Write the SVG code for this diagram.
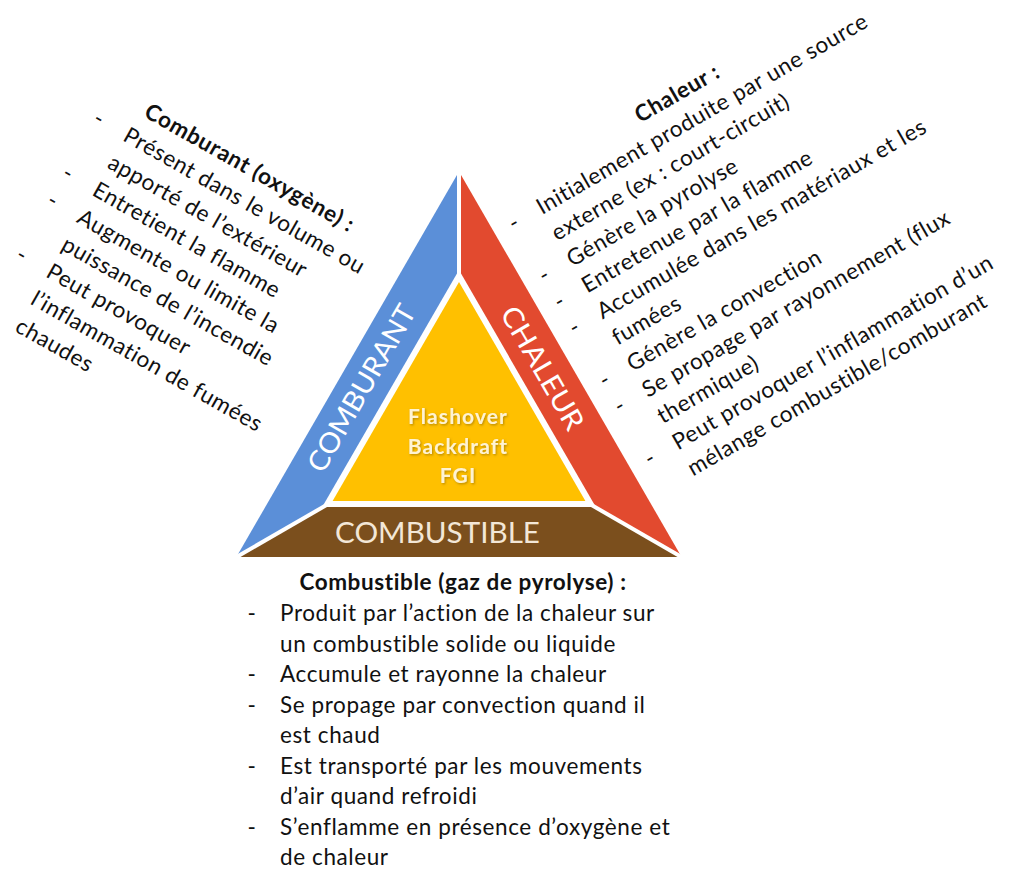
<svg xmlns="http://www.w3.org/2000/svg" width="1011" height="869" viewBox="0 0 1011 869">
  <defs>
    <filter id="shadow" x="-20%" y="-20%" width="140%" height="140%">
      <feDropShadow dx="1" dy="1.2" stdDeviation="0.8" flood-color="#7a5a00" flood-opacity="0.55"/>
    </filter>
  </defs>
  <style>
    .t { font-family: Lato, "Liberation Sans", sans-serif; font-size: 22.5px; letter-spacing: 0.6px; fill: #111; }
    .b { font-weight: bold; }
    .band { font-family: Lato, "Open Sans", sans-serif; font-size: 28px; fill: #ffffff; }
    .core { font-family: Lato, "Liberation Sans", sans-serif; font-weight: bold; font-size: 21px; letter-spacing: 1.1px; fill: #fff3d2; text-anchor: middle; }
    .sep { stroke: #ffffff; stroke-width: 4; }
  </style>
  <rect x="0" y="0" width="1011" height="869" fill="#ffffff"/>

  <g id="triangle">
    <g id="comburant">
      <polygon points="459,171.5 236.4,557 459,428.5" fill="#5b8fd8"/>
    </g>
    <g id="chaleur">
      <polygon points="459,171.5 681.6,557 459,428.5" fill="#e24a2f"/>
    </g>
    <g id="combustible">
      <polygon points="236.4,557 681.6,557 459,428.5" fill="#7b4f1d"/>
    </g>
    <line class="sep" x1="459" y1="168" x2="459" y2="428.5"/>
    <line class="sep" x1="233" y1="559" x2="459" y2="428.5"/>
    <line class="sep" x1="685" y1="559" x2="459" y2="428.5"/>
    <polygon points="459,270 322.2,507 595.8,507" fill="#ffffff"/>
    <g id="core">
      <polygon points="459,282 332.6,501 585.4,501" fill="#ffc000"/>
      <g filter="url(#shadow)">
        <text class="core" x="458" y="424">Flashover</text>
        <text class="core" x="458" y="454">Backdraft</text>
        <text class="core" x="458" y="483">FGI</text>
      </g>
    </g>
    <text class="band" transform="translate(370,393) rotate(-60)" text-anchor="middle" textLength="188" lengthAdjust="spacingAndGlyphs">COMBURANT</text>
    <text class="band" transform="translate(534,373) rotate(60)" text-anchor="middle" textLength="138" lengthAdjust="spacingAndGlyphs">CHALEUR</text>
    <text class="band" x="437.5" y="543" text-anchor="middle" style="fill:#f3e7d7" textLength="205" lengthAdjust="spacingAndGlyphs">COMBUSTIBLE</text>
  </g>

  <g id="texte-comburant" transform="translate(121.7,140) rotate(29.5)">
    <text class="t b" x="6.5" y="-31.3">Comburant (oxygène) :</text>
    <text class="t" x="-30" y="0" text-anchor="middle">-</text>
    <text class="t" x="0" y="0">Présent dans le volume ou</text>
    <text class="t" x="0" y="31.3">apporté de l’extérieur</text>
    <text class="t" x="-30" y="62.6" text-anchor="middle">-</text>
    <text class="t" x="0" y="62.6">Entretient la flamme</text>
    <text class="t" x="-30" y="93.9" text-anchor="middle">-</text>
    <text class="t" x="0" y="93.9">Augmente ou limite la</text>
    <text class="t" x="0" y="125.2">puissance de l’incendie</text>
    <text class="t" x="-30" y="156.5" text-anchor="middle">-</text>
    <text class="t" x="0" y="156.5">Peut provoquer</text>
    <text class="t" x="0" y="187.8">l’inflammation de fumées</text>
    <text class="t" x="0" y="219.1">chaudes</text>
  </g>

  <g id="texte-chaleur" transform="translate(542,215) rotate(-30)">
    <text class="t b" x="131" y="-30.2">Chaleur :</text>
    <text class="t" x="-28" y="0" text-anchor="middle">-</text>
    <text class="t" x="0" y="0">Initialement produite par une source</text>
    <text class="t" x="0" y="30.2">externe (ex : court-circuit)</text>
    <text class="t" x="-28" y="60.4" text-anchor="middle">-</text>
    <text class="t" x="0" y="60.4">Génère la pyrolyse</text>
    <text class="t" x="-28" y="90.6" text-anchor="middle">-</text>
    <text class="t" x="0" y="90.6">Entretenue par la flamme</text>
    <text class="t" x="-28" y="120.8" text-anchor="middle">-</text>
    <text class="t" x="0" y="120.8">Accumulée dans les matériaux et les</text>
    <text class="t" x="0" y="151">fumées</text>
    <text class="t" x="-28" y="181.2" text-anchor="middle">-</text>
    <text class="t" x="0" y="181.2">Génère la convection</text>
    <text class="t" x="-28" y="211.4" text-anchor="middle">-</text>
    <text class="t" x="0" y="211.4">Se propage par rayonnement (flux</text>
    <text class="t" x="0" y="241.6">thermique)</text>
    <text class="t" x="-28" y="271.8" text-anchor="middle">-</text>
    <text class="t" x="0" y="271.8">Peut provoquer l’inflammation d’un</text>
    <text class="t" x="0" y="302">mélange combustible/comburant</text>
  </g>

  <g id="texte-combustible">
    <text class="t b" x="463" y="590" text-anchor="middle">Combustible (gaz de pyrolyse) :</text>
    <text class="t" x="252" y="621" text-anchor="middle">-</text>
    <text class="t" x="280" y="621">Produit par l’action de la chaleur sur</text>
    <text class="t" x="280" y="651.5">un combustible solide ou liquide</text>
    <text class="t" x="252" y="682" text-anchor="middle">-</text>
    <text class="t" x="280" y="682">Accumule et rayonne la chaleur</text>
    <text class="t" x="252" y="712.5" text-anchor="middle">-</text>
    <text class="t" x="280" y="712.5">Se propage par convection quand il</text>
    <text class="t" x="280" y="743">est chaud</text>
    <text class="t" x="252" y="773.5" text-anchor="middle">-</text>
    <text class="t" x="280" y="773.5">Est transporté par les mouvements</text>
    <text class="t" x="280" y="804">d’air quand refroidi</text>
    <text class="t" x="252" y="834.5" text-anchor="middle">-</text>
    <text class="t" x="280" y="834.5">S’enflamme en présence d’oxygène et</text>
    <text class="t" x="280" y="865">de chaleur</text>
  </g>
</svg>
